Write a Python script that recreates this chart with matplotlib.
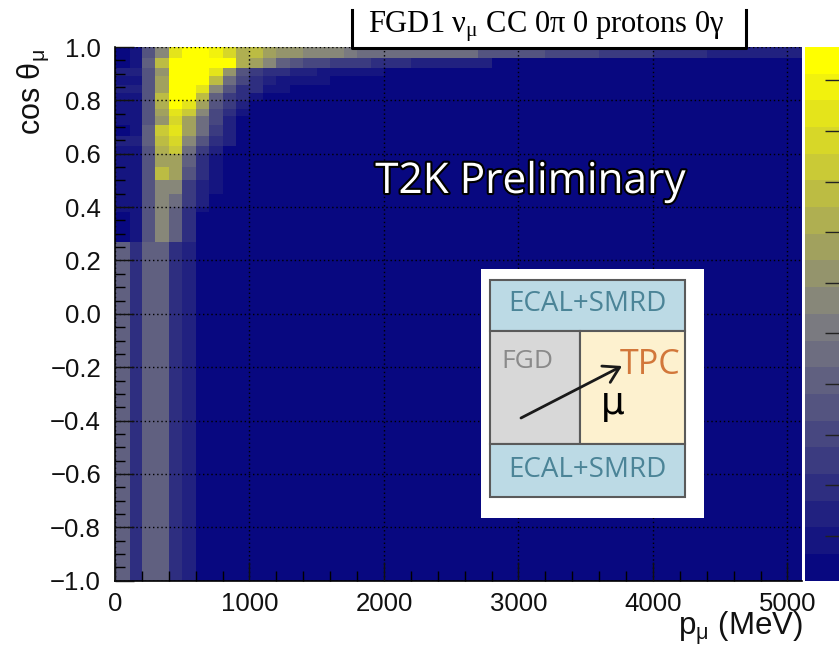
import matplotlib
matplotlib.use("Agg")
import matplotlib.pyplot as plt
import matplotlib.patheffects as pe
from matplotlib.colors import LinearSegmentedColormap
from matplotlib.patches import Rectangle
import numpy as np

# bin edges, the cos theta binning is not uniform
p_edges = [0, 110] + [100 * i for i in range(2, 52)] + [5108]
cos_edges = [1.0, 0.959, 0.921, 0.890, 0.859, 0.828, 0.799, 0.769, 0.740,
             0.709, 0.668, 0.630, 0.600, 0.550, 0.500, 0.450, 0.400, 0.380, 0.2675, -1.0]

# one row per cos bin (top to bottom), missing columns are empty
rows = [
    [.02, .08, .30, .50, .85, 1, 1, .90, .80, .68, .70, .62, .55, .55, .50, .50, .50, .45, .42, .42,
     .42, .42, .42, .42, .42, .42, .42, .33, .33, .33, .33, .33, .28, .28, .28, .28, .23, .23, .23, .23,
     .18, .18, .18, .18, .13, .13, .13, .10, .10, .10, .10, .10],
    [.02, .08, .35, .72, 1, 1, 1, 1, .95, .68, .62, .50, .35, .32, .28, .25, .20, .20, .20, .15, .15, .15,
     .10, .10, .10, .10, .10, .10],
    [.12, .10, .30, .55, .97, 1, 1, .85, .55, .30, .20, .18, .15, .10, .10, .08, .08, .06, .06, .05],
    [.08, .08, .30, .62, 1, 1, .97, .72, .42, .25, .15, .12, .08, .08, .05, .05],
    [.10, .10, .30, .62, 1, 1, .85, .50, .30, .18, .15, .08, .06],
    [.08, .08, .30, .70, 1, .97, .70, .38, .22, .15, .06],
    [.08, .08, .30, .65, .98, .85, .60, .30, .20, .12],
    [.08, .08, .30, .62, .85, .78, .50, .28, .18, .08],
    [.05, .08, .32, .55, .80, .62, .42, .25, .12],
    [.02, .08, .38, .75, .88, .62, .40, .22, .12],
    [.10, .10, .35, .72, .80, .50, .30, .18, .10],
    [.08, .08, .30, .68, .78, .42, .22, .10],
    [.08, .08, .30, .60, .62, .35, .15, .08],
    [.08, .08, .30, .70, .62, .30, .15, .08],
    [.08, .08, .30, .50, .50, .20, .12, .06],
    [.08, .08, .30, .50, .40, .20, .12],
    [.08, .08, .30, .50, .38, .15, .08],
    [.02, .08, .30, .50, .35, .15],
    [.35, .18, .35, .35, .18, .10],
]

z = np.zeros((len(rows), len(p_edges) - 1))
for i, r in enumerate(rows):
    z[i, :len(r)] = r

cmap = LinearSegmentedColormap.from_list("root", ["#080880", "#808080", "#ffff00"], N=20)

W, H = 839, 652
fig = plt.figure(figsize=(W / 100, H / 100), dpi=100)
plt.rcParams["font.family"] = "Liberation Sans"

ax = fig.add_axes([115 / W, (H - 580.7) / H, 687 / W, 533.7 / H])
ax.pcolormesh(p_edges, cos_edges, z, cmap=cmap, vmin=0, vmax=1)
ax.set_xlim(0, 5108)
ax.set_ylim(-1, 1)
ax.set_xticks([0, 1000, 2000, 3000, 4000, 5000])
ax.set_xticks(np.arange(0, 5001, 200), minor=True)
ax.set_yticks(np.arange(-1, 1.01, 0.2))
ax.set_yticks(np.arange(-1, 1.01, 0.05), minor=True)
ax.set_yticklabels(["\u22121.0", "\u22120.8", "\u22120.6", "\u22120.4", "\u22120.2", "0.0", "0.2", "0.4", "0.6", "0.8", "1.0"])
ax.tick_params(which="major", direction="in", length=14, width=1, labelsize=18.5, colors="#111111")
ax.tick_params(axis="y", which="major", pad=10)
ax.tick_params(axis="x", which="major", pad=8)
ax.tick_params(which="minor", direction="in", length=7, width=1)
ax.set_axisbelow(False)
ax.grid(True, which="major", color="black", linestyle=(0, (1, 2)), linewidth=1)
ax.spines["top"].set_visible(False)
ax.spines["right"].set_visible(False)
for s in ["left", "bottom"]:
    ax.spines[s].set_linewidth(1.2)

# colour scale, runs off the right edge of the picture
cax = fig.add_axes([805 / W, (H - 580.7) / H, 60 / W, 533.7 / H])
levels = np.linspace(0, 1, 21)
cax.pcolormesh([0, 1], levels, ((levels[:-1] + levels[1:]) / 2).reshape(-1, 1), cmap=cmap, vmin=0, vmax=1)
cax.set_xticks([])
cax.yaxis.tick_right()
cax.set_yticks(np.arange(45, 533, 50.6) / 533.7)
cax.set_yticklabels([])
cax.tick_params(axis="y", direction="in", length=29, width=1, color="#222222")
for s in cax.spines.values():
    s.set_visible(False)

# overlay in pixels for title box, stamp and the detector sketch
ov = fig.add_axes([0, 0, 1, 1])
ov.set_xlim(0, W)
ov.set_ylim(H, 0)
ov.axis("off")
ov.patch.set_alpha(0)

ov.add_patch(Rectangle((352, 10), 394, 38, fc="white", ec="none", zorder=3))
ov.plot([352, 352, 746, 746], [10, 48, 48, 10], color="black", lw=2.2, zorder=4)
ov.text(546, 33, r"FGD1 $\mathregular{\nu_{\mu}}$ CC 0$\mathregular{\pi}$ 0 protons 0$\mathregular{\gamma}$",
        family="Liberation Serif", fontsize=22, ha="center", va="baseline", zorder=5, math_fontfamily="stix")

ov.text(530.5, 182, "T2K Preliminary", family="Open Sans", fontsize=30.5, color="white", ha="center", va="center",
        path_effects=[pe.withStroke(linewidth=3, foreground="black")])

ov.add_patch(Rectangle((481, 269), 223, 249, fc="white", ec="none"))
edge = "#5a5a5a"
ov.add_patch(Rectangle((489.5, 280), 195.5, 51, fc="#bcdae5", ec=edge, lw=1.5))
ov.add_patch(Rectangle((489.5, 331), 90, 113, fc="#d8d8d8", ec=edge, lw=1.5))
ov.add_patch(Rectangle((579.5, 331), 105.5, 113, fc="#fdf1cf", ec=edge, lw=1.5))
ov.add_patch(Rectangle((489.5, 444), 195.5, 53, fc="#bcdae5", ec=edge, lw=1.5))
ov.text(587.5, 304, "ECAL+SMRD", family="Open Sans", fontsize=20, color="#4b8497", ha="center", va="center")
ov.text(587.5, 470, "ECAL+SMRD", family="Open Sans", fontsize=20, color="#4b8497", ha="center", va="center")
ov.text(527, 362, "FGD", family="Open Sans", fontsize=19, color="#8a8a8a", ha="center", va="center")
ov.text(650, 365, "TPC", family="Open Sans", fontsize=24.5, color="#d2773a", ha="center", va="center")
ov.text(613, 404, "\u03bc", family="DejaVu Sans", fontsize=27, color="black", ha="center", va="center")
ov.annotate("", xy=(622, 366), xytext=(521, 418),
            arrowprops=dict(arrowstyle="->,head_length=0.5,head_width=0.3", color="#1a1a1a", lw=2,
                            mutation_scale=22, shrinkA=0, shrinkB=0))

# axis titles
ov.text(33, 92, r"cos $\mathregular{\theta_{\mu}}$", fontsize=22, rotation=90, ha="center", va="center", color="#111111")
ov.text(803, 635, r"$\mathregular{p_{\mu}}$ (MeV)", fontsize=22.5, ha="right", va="baseline", color="#111111")

fig.savefig("out.png", dpi=100)
